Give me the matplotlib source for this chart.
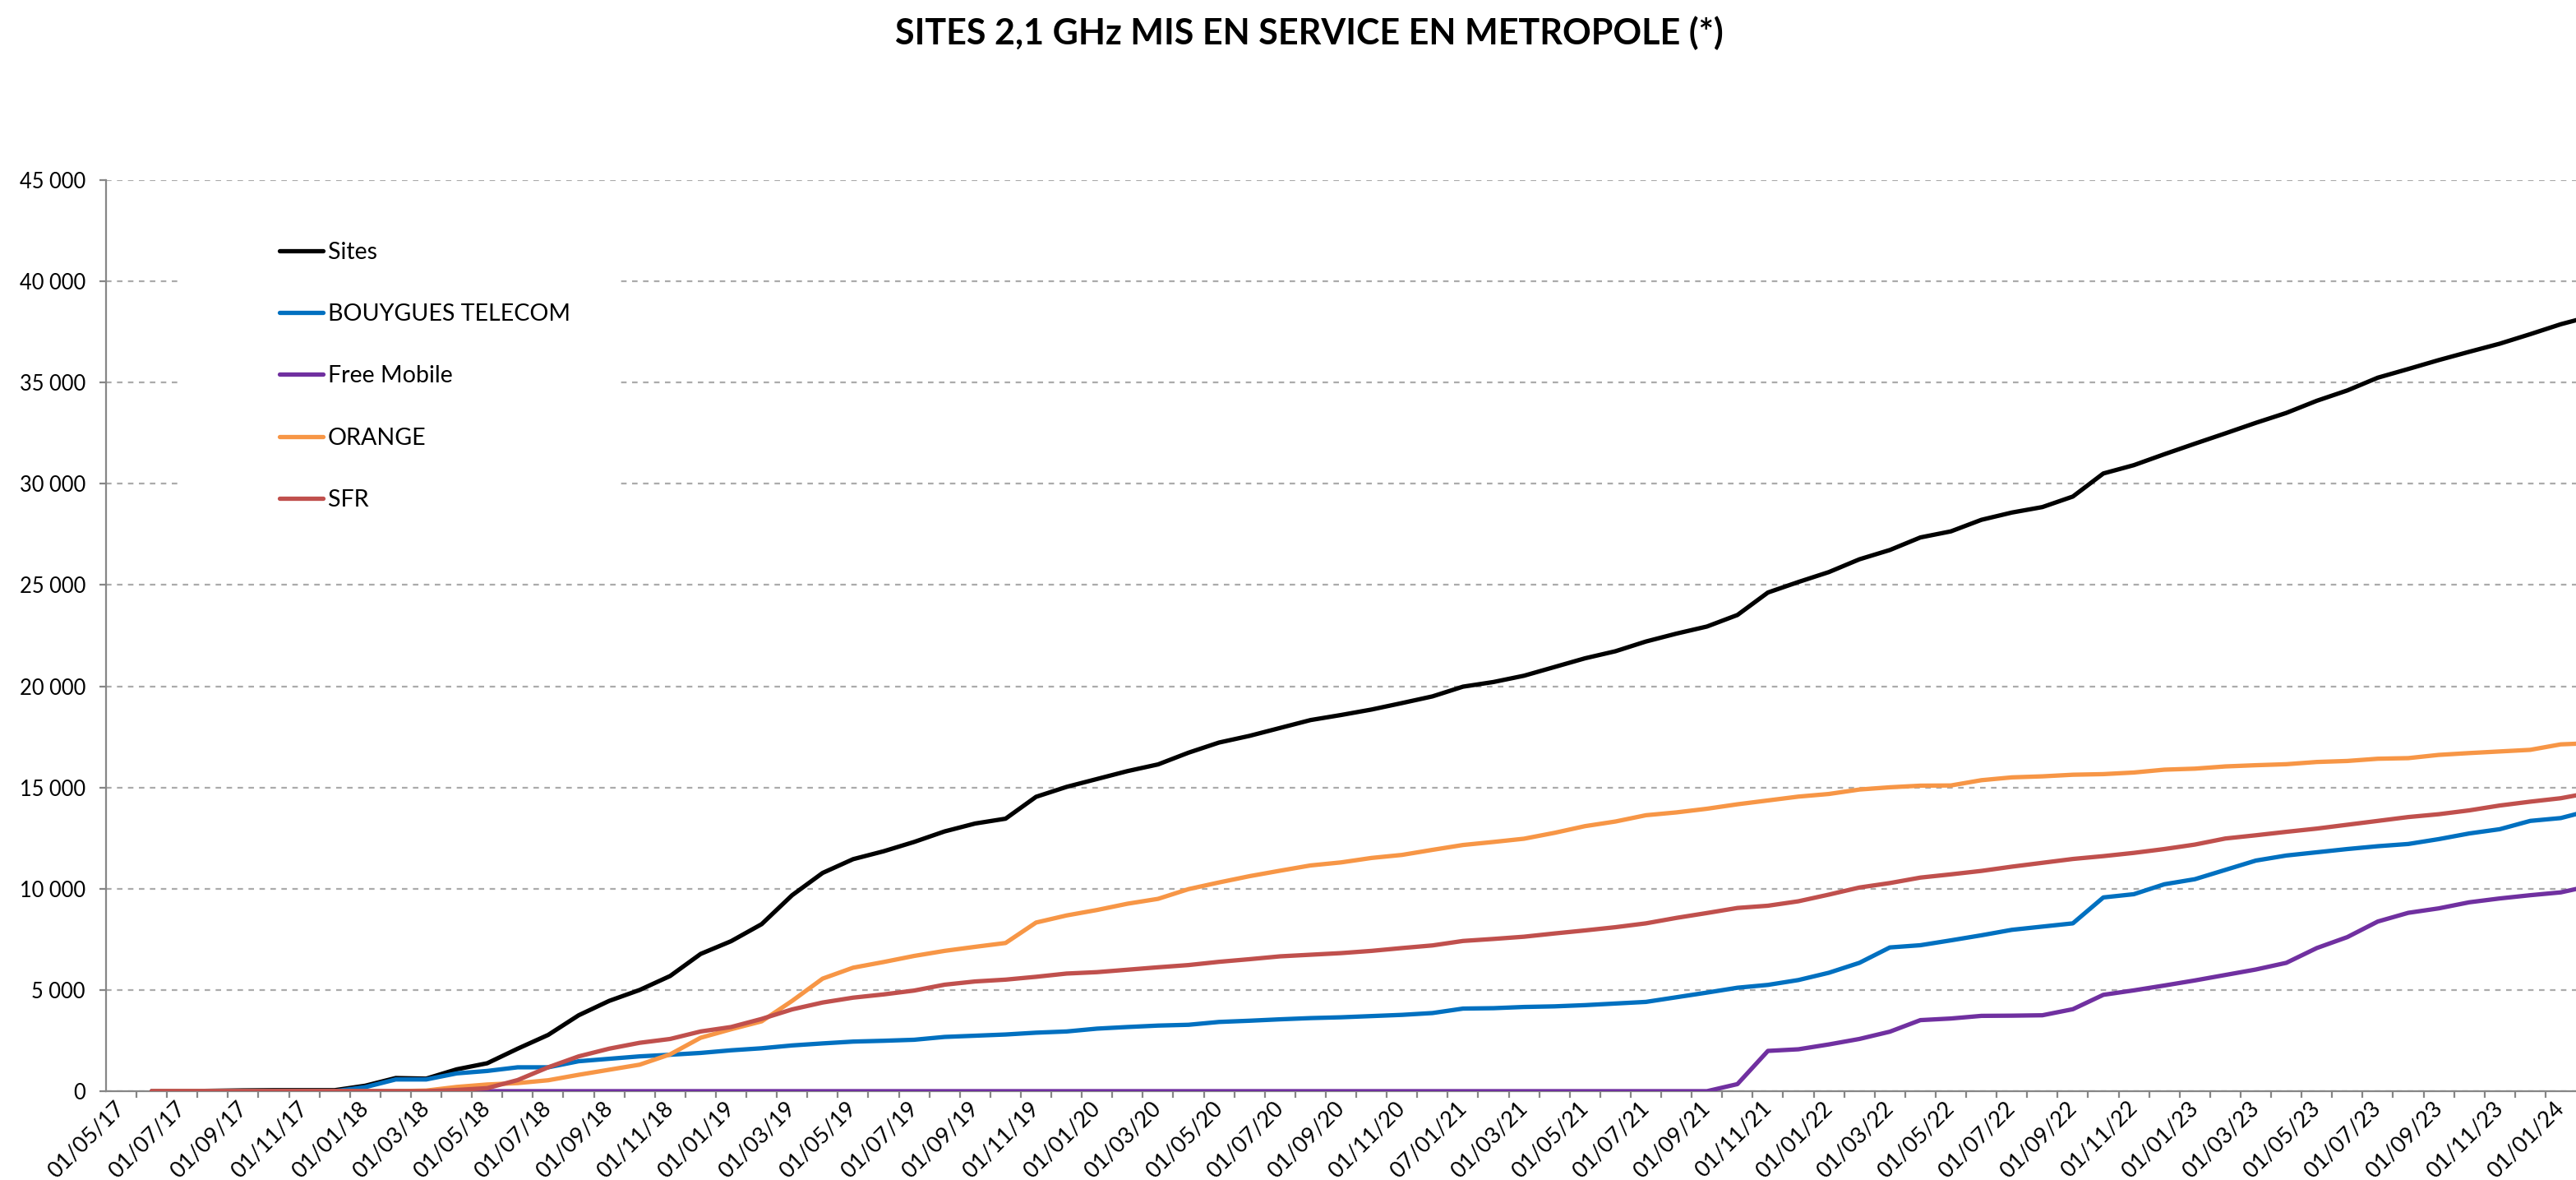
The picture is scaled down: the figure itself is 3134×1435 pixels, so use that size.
import numpy as np
import pandas as pd
import matplotlib
matplotlib.use('Agg')
import matplotlib.pyplot as plt
from matplotlib.patches import Rectangle
from matplotlib.ticker import FuncFormatter

plt.rcParams['font.family'] = ['Lato', 'DejaVu Sans']

# monthly data points, first one at 01/06/17 (axis starts one category earlier, 01/05/17)
months = pd.date_range('2017-06-01', periods=81, freq='MS')

tick_labels = ['01/05/17', '01/07/17', '01/09/17', '01/11/17', '01/01/18', '01/03/18',
               '01/05/18', '01/07/18', '01/09/18', '01/11/18', '01/01/19', '01/03/19',
               '01/05/19', '01/07/19', '01/09/19', '01/11/19', '01/01/20', '01/03/20',
               '01/05/20', '01/07/20', '01/09/20', '01/11/20', '07/01/21', '01/03/21',
               '01/05/21', '01/07/21', '01/09/21', '01/11/21', '01/01/22', '01/03/22',
               '01/05/22', '01/07/22', '01/09/22', '01/11/22', '01/01/23', '01/03/23',
               '01/05/23', '01/07/23', '01/09/23', '01/11/23', '01/01/24']

sites = [0, 0, 20, 40, 50, 50, 50, 270, 650, 620,
         1080, 1380, 2100, 2780, 3750, 4460, 5000, 5690, 6780, 7410,
         8250, 9680, 10780, 11460, 11850, 12310, 12830, 13220, 13460, 14540,
         15030, 15420, 15810, 16140, 16720, 17220, 17550, 17940, 18330, 18580,
         18850, 19170, 19500, 19980, 20210, 20520, 20950, 21380, 21730, 22210,
         22600, 22950, 23520, 24630, 25150, 25640, 26270, 26730, 27350, 27650,
         28220, 28580, 28850, 29370, 30510, 30920, 31460, 31980, 32490, 33010,
         33500, 34100, 34610, 35240, 35670, 36110, 36520, 36920, 37390, 37880,
         38280]

bouygues = [0, 0, 0, 0, 0, 0, 0, 200, 580, 580,
            880, 1000, 1180, 1180, 1480, 1600, 1720, 1800, 1890, 2020,
            2120, 2260, 2360, 2450, 2490, 2540, 2680, 2740, 2800, 2890,
            2950, 3090, 3170, 3240, 3280, 3420, 3480, 3550, 3610, 3650,
            3710, 3770, 3860, 4080, 4100, 4160, 4190, 4250, 4330, 4410,
            4640, 4870, 5110, 5250, 5490, 5850, 6340, 7100, 7210, 7450,
            7700, 7970, 8130, 8290, 9570, 9730, 10220, 10470, 10930, 11390,
            11640, 11800, 11960, 12100, 12210, 12450, 12730, 12940, 13350, 13490,
            13880]

free = [0] * 52 + [350, 1990, 2070, 2310, 2580, 2940, 3510, 3590,
                   3720, 3730, 3750, 4050, 4760, 4980, 5220, 5470, 5740, 6010,
                   6340, 7070, 7610, 8380, 8810, 9030, 9330, 9520, 9680, 9820,
                   10150]

orange = [0, 0, 0, 0, 0, 0, 0, 0, 0, 30,
          210, 330, 400, 540, 810, 1060, 1310, 1820, 2640, 3060,
          3450, 4460, 5560, 6100, 6380, 6680, 6930, 7130, 7320, 8330,
          8680, 8950, 9260, 9500, 9980, 10310, 10620, 10890, 11150, 11300,
          11520, 11670, 11920, 12160, 12310, 12470, 12760, 13090, 13320, 13630,
          13770, 13950, 14170, 14360, 14550, 14680, 14900, 15010, 15090, 15100,
          15360, 15500, 15550, 15630, 15660, 15740, 15880, 15930, 16040, 16100,
          16150, 16260, 16310, 16420, 16450, 16610, 16700, 16780, 16860, 17130,
          17190]

sfr = [0, 0, 0, 0, 0, 0, 0, 0, 0, 0,
       60, 150, 550, 1180, 1720, 2100, 2390, 2580, 2950, 3170,
       3570, 4040, 4380, 4620, 4780, 4970, 5260, 5420, 5510, 5650,
       5810, 5880, 6000, 6120, 6230, 6390, 6520, 6660, 6740, 6820,
       6930, 7070, 7200, 7420, 7520, 7630, 7790, 7940, 8100, 8290,
       8560, 8800, 9050, 9160, 9380, 9710, 10060, 10280, 10550, 10710,
       10880, 11090, 11280, 11470, 11610, 11770, 11960, 12180, 12480, 12640,
       12810, 12970, 13160, 13350, 13540, 13680, 13870, 14110, 14300, 14470,
       14750]

series = [('Sites', sites, '#000000'),
          ('BOUYGUES TELECOM', bouygues, '#0070C0'),
          ('Free Mobile', free, '#7030A0'),
          ('ORANGE', orange, '#F79646'),
          ('SFR', sfr, '#C0504D')]

W, H = 3134, 1435
fig = plt.figure(figsize=(W / 200, H / 200), dpi=200)
ax = fig.add_axes([129 / W, (H - 1327) / H, 1 - 129 / W, (1327 - 219) / H])

# category index: 0 = 01/05/17
x = (months.year - 2017) * 12 + months.month - 5
for name, vals, col in series:
    ax.plot(x, vals, color=col, lw=1.9, label=name, solid_joinstyle='round',
            solid_capstyle='round', zorder=3)

ax.set_xlim(-0.5, 80.5)
ax.set_ylim(0, 45000)
ax.set_yticks(np.arange(0, 45001, 5000))
ax.yaxis.set_major_formatter(FuncFormatter(lambda v, p: f'{int(v):,}'.replace(',', ' ')))
ax.grid(axis='y', color='#ABABAB', ls=(0, (3, 3)), lw=0.8)
ax.set_axisbelow(True)

# ticks between categories, labels every second category
ax.set_xticks(np.arange(0.5, 80.5, 1))
ax.set_xticklabels([])
ax.set_xticks(np.arange(0, 81, 2), minor=True)
ax.set_xticklabels(tick_labels, minor=True, rotation=45, ha='right', va='center',
                   rotation_mode='anchor', fontsize=9.8)
ax.tick_params(axis='x', which='major', length=3, color='#868686', width=0.8)
ax.tick_params(axis='x', which='minor', length=0, pad=6)
ax.tick_params(axis='y', length=3, color='#868686', width=0.8, pad=6, labelsize=9.2)

for s in ['top', 'right']:
    ax.spines[s].set_visible(False)
for s in ['left', 'bottom']:
    ax.spines[s].set_color('#868686')
    ax.spines[s].set_linewidth(0.8)

# white legend area hiding the gridlines
ax.add_patch(Rectangle((216 / W, 1 - 650 / H), (752 - 216) / W, (650 - 250) / H,
                       transform=fig.transFigure, facecolor='white', edgecolor='none',
                       zorder=1))
ax.legend(loc='upper left', bbox_to_anchor=(340 / W, 1 - 294 / H),
          bbox_transform=fig.transFigure, frameon=False, fontsize=10.3,
          handlelength=1.85, handletextpad=0.2, labelspacing=1.72,
          borderpad=0, borderaxespad=0)

fig.text(1593 / W, 1 - 40 / H, 'SITES 2,1 GHz MIS EN SERVICE EN METROPOLE (*)',
         ha='center', va='center', fontsize=15.5, fontweight='bold')

fig.savefig('out.png', dpi=200)
